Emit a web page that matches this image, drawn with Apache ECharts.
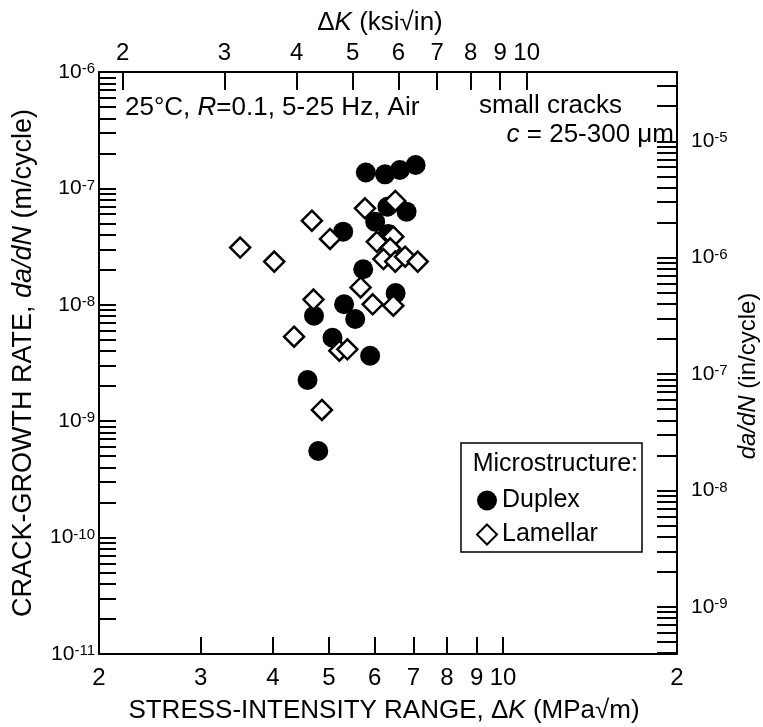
<!DOCTYPE html>
<html>
<head>
<meta charset="utf-8">
<script src="https://cdn.jsdelivr.net/npm/echarts@6/dist/echarts.min.js"></script>
<style>
html,body{margin:0;padding:0;background:#fff;}
#chart{width:763px;height:727px;}
</style>
</head>
<body>
<div id="chart"></div>
<script>
// duplex microstructure: dK (MPa*sqrt(m)) and da/dN (m/cycle)
var duplexK = [5.79, 6.25, 6.63, 7.06, 6.31, 6.81, 6.01, 6.33, 5.29, 5.73, 6.52, 5.31, 5.55, 4.71, 5.07, 5.89, 4.59, 4.79];
var duplexRate = [1.37e-7, 1.32e-7, 1.44e-7, 1.59e-7, 6.96e-8, 6.31e-8, 5.17e-8, 4.06e-8, 4.25e-8, 2.02e-8, 1.26e-8, 1.01e-8, 7.55e-9, 8.06e-9, 5.21e-9, 3.65e-9, 2.26e-9, 5.55e-10];
// lamellar microstructure
var lamellarK = [3.51, 4.02, 4.67, 5.02, 5.77, 6.51, 6.05, 6.46, 6.38, 6.21, 6.51, 6.77, 7.12, 5.67, 4.70, 5.95, 6.46, 4.35, 5.21, 5.38, 4.86];
var lamellarRate = [3.10e-8, 2.35e-8, 5.28e-8, 3.68e-8, 6.75e-8, 7.80e-8, 3.48e-8, 3.85e-8, 3.06e-8, 2.47e-8, 2.35e-8, 2.59e-8, 2.35e-8, 1.41e-8, 1.11e-8, 1.01e-8, 9.83e-9, 5.32e-9, 4.03e-9, 4.15e-9, 1.25e-9];

// tick labels
var kLabelsMPa = [2, 3, 4, 5, 6, 7, 8, 9, 10, 20];
var kTicksMPa = [3, 4, 5, 6, 7, 8, 9, 10];
var kLabelsKsi = [2, 3, 4, 5, 6, 7, 8, 9, 10];
var rateDecadesM = [-11, -10, -9, -8, -7, -6];
var rateDecadesIn = [-9, -8, -7, -6, -5];

var MPA_PER_KSI = 1.0988;
var M_PER_IN = 0.0254;
var FONT = 'Liberation Sans, Arial, sans-serif';

var kMin = 2, kMax = 20;
var rMin = 1e-11, rMax = 1e-6;

function pow10(list) {
    return list.map(function (e) { return Math.pow(10, e); });
}
// 1..9 x 10^n ticks inside [lo, hi]
function logTicks(lo, hi) {
    var out = [];
    for (var e = Math.floor(Math.log10(lo)); e <= Math.ceil(Math.log10(hi)); e++) {
        for (var m = 1; m <= 9; m++) {
            var v = m * Math.pow(10, e);
            if (v >= lo * 0.9999 && v <= hi * 1.0001) out.push(v);
        }
    }
    return out;
}
function expLabel(v) {
    return '{b|10}{s|' + Math.round(Math.log10(v)) + '}';
}
function titleStyle(size, padding) {
    return {fontSize: size, fontFamily: FONT, color: '#000', padding: padding || 0,
        rich: {i: {fontSize: size, fontFamily: FONT, fontStyle: 'italic', color: '#000'}}};
}

var lineStyle = {color: '#000', width: 2};
var supRich = {
    b: {fontSize: 21, fontFamily: FONT, color: '#000'},
    s: {fontSize: 15, fontFamily: FONT, color: '#000', verticalAlign: 'top'}
};

var chart = echarts.init(document.getElementById('chart'), null, {renderer: 'canvas'});

chart.setOption({
    backgroundColor: '#fff',
    animation: false,
    grid: {left: 99, top: 72, width: 578, height: 582, outerBoundsMode: 'none', containLabel: false},
    xAxis: [{
        type: 'log',
        position: 'bottom',
        min: kMin,
        max: kMax,
        axisLine: {lineStyle: lineStyle},
        axisTick: {inside: true, length: 17, lineStyle: lineStyle, customValues: kTicksMPa},
        axisLabel: {
            customValues: kLabelsMPa,
            margin: 12,
            fontSize: 24,
            fontFamily: FONT,
            color: '#000',
            formatter: function (v) { return v >= 20 ? '2' : String(Math.round(v)); }
        },
        splitLine: {show: false},
        name: 'STRESS-INTENSITY RANGE, Δ{i|K} (MPa√m)',
        nameLocation: 'middle',
        nameGap: 44,
        nameTextStyle: titleStyle(26, [0, 8, 0, 0])
    }, {
        type: 'log',
        position: 'top',
        min: kMin / MPA_PER_KSI,
        max: kMax / MPA_PER_KSI,
        axisLine: {lineStyle: lineStyle},
        axisTick: {inside: true, length: 18, lineStyle: lineStyle, customValues: kLabelsKsi},
        axisLabel: {
            customValues: kLabelsKsi,
            margin: 7,
            fontSize: 24,
            fontFamily: FONT,
            color: '#000',
            formatter: function (v) { return String(Math.round(v)); }
        },
        splitLine: {show: false},
        name: 'Δ{i|K} (ksi√in)',
        nameLocation: 'middle',
        nameGap: 34,
        nameTextStyle: titleStyle(26, [0, 16, 0, 0])
    }],
    yAxis: [{
        type: 'log',
        position: 'left',
        min: rMin,
        max: rMax,
        axisLine: {lineStyle: lineStyle},
        axisTick: {inside: true, length: 17, lineStyle: lineStyle, customValues: logTicks(rMin, rMax)},
        axisLabel: {
            customValues: pow10(rateDecadesM),
            margin: 4,
            formatter: expLabel,
            rich: supRich
        },
        splitLine: {show: false},
        name: 'CRACK-GROWTH RATE, {i|da/dN} (m/cycle)',
        nameLocation: 'middle',
        nameGap: 62,
        nameRotate: 90,
        nameTextStyle: titleStyle(27)
    }, {
        type: 'log',
        position: 'right',
        min: rMin / M_PER_IN,
        max: rMax / M_PER_IN,
        axisLine: {lineStyle: lineStyle},
        axisTick: {inside: true, length: 20, lineStyle: lineStyle, customValues: logTicks(rMin / M_PER_IN, rMax / M_PER_IN)},
        axisLabel: {
            customValues: pow10(rateDecadesIn),
            margin: 14,
            formatter: expLabel,
            rich: supRich
        },
        splitLine: {show: false}
    }],
    legend: {
        orient: 'vertical',
        left: 476,
        top: 488,
        itemWidth: 20,
        itemHeight: 20,
        itemGap: 9,
        padding: 0,
        textStyle: {fontSize: 25, fontFamily: FONT, color: '#000'},
        data: ['Duplex', 'Lamellar']
    },
    graphic: [{
        type: 'rect',
        shape: {x: 461, y: 443, width: 181, height: 109},
        style: {fill: 'transparent', stroke: '#000', lineWidth: 1.5}
    }, {
        type: 'text',
        x: 638, y: 464,
        style: {text: 'Microstructure:', fill: '#000', font: '25px ' + FONT, align: 'right', verticalAlign: 'middle'}
    }, {
        // right axis title, da/dN in in/cycle
        type: 'text',
        x: 748, y: 376,
        rotation: Math.PI / 2,
        style: {
            text: '{i|da/dN} (in/cycle)',
            fill: '#000', font: '24px ' + FONT, align: 'center', verticalAlign: 'middle',
            rich: {i: {fontStyle: 'italic', fontSize: 24, fontFamily: FONT}}
        }
    }, {
        type: 'text',
        x: 125, y: 108,
        style: {
            text: '25°C, {i|R}=0.1, 5-25 Hz, Air',
            fill: '#000', font: '26px ' + FONT, align: 'left', verticalAlign: 'middle',
            rich: {i: {fontStyle: 'italic', fontSize: 26, fontFamily: FONT}}
        }
    }, {
        type: 'text',
        x: 622, y: 106,
        style: {text: 'small cracks', fill: '#000', font: '26px ' + FONT, align: 'right', verticalAlign: 'middle'}
    }, {
        type: 'text',
        x: 674, y: 135,
        style: {
            text: '{i|c} = 25-300 μm',
            fill: '#000', font: '26px ' + FONT, align: 'right', verticalAlign: 'middle',
            rich: {i: {fontStyle: 'italic', fontSize: 26, fontFamily: FONT}}
        }
    }],
    series: [{
        name: 'Duplex',
        type: 'scatter',
        xAxisIndex: 0,
        yAxisIndex: 0,
        symbol: 'circle',
        symbolSize: 20,
        itemStyle: {color: '#000', opacity: 1},
        data: duplexK.map(function (k, i) { return [k, duplexRate[i]]; })
    }, {
        name: 'Lamellar',
        type: 'scatter',
        xAxisIndex: 0,
        yAxisIndex: 0,
        symbol: 'diamond',
        symbolSize: 20,
        itemStyle: {color: '#fff', borderColor: '#000', borderWidth: 2.5, opacity: 1},
        data: lamellarK.map(function (k, i) { return [k, lamellarRate[i]]; })
    }]
});
</script>
</body>
</html>
